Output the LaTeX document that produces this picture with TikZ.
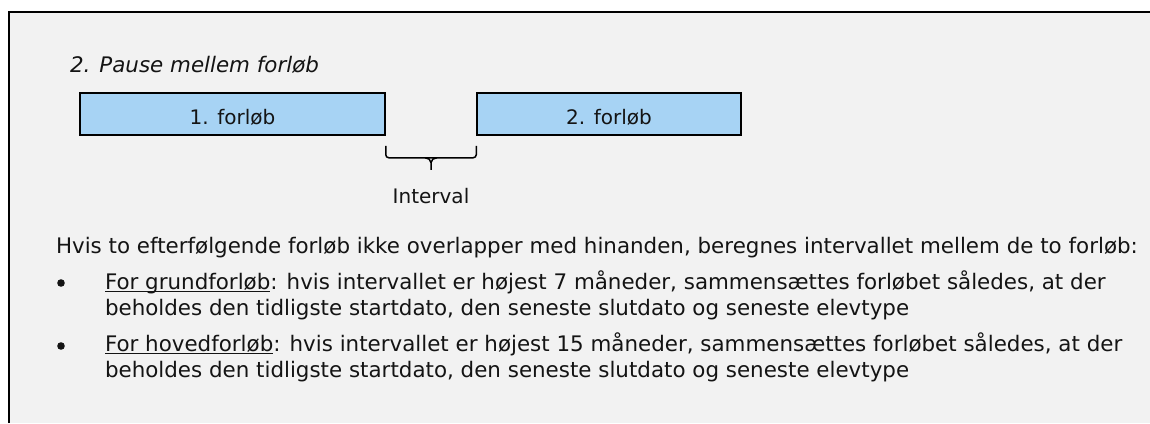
\documentclass[tikz,border=0pt]{standalone}
\usepackage{fontspec}
\setmainfont{DejaVu Sans}
\usetikzlibrary{calc}
\definecolor{panel}{HTML}{F2F2F2}
\definecolor{barblue}{HTML}{A7D3F4}
\definecolor{ink}{HTML}{141414}
\newcommand\ulx[1]{\setbox0\hbox{#1}\rlap{\rule[-3.4pt]{\wd0}{1.2pt}}#1}
\begin{document}
\begin{tikzpicture}[x=1pt,y=-1pt,
  txt/.style={anchor=base west,inner sep=0pt,outer sep=0pt,text=ink,font=\fontsize{21.4}{25}\selectfont},
  lbl/.style={inner sep=0pt,outer sep=0pt,text=ink,font=\fontsize{20}{24}\selectfont},
  bar/.style={draw=black,line width=1.5pt,fill=barblue,minimum height=42pt,inner sep=0pt,
    text=ink,font=\fontsize{20}{24}\selectfont,text height=20pt,text depth=0pt},
  dot/.style={circle,fill=ink,inner sep=0pt,minimum size=7.6pt},
  bracestyle/.style={draw=black,line width=1.5pt}]
\useasboundingbox (0,0) rectangle (1150,423);
\fill[panel] (9,12) rectangle (1150,423);
\draw[line width=2pt] (9,423) -- (9,12) -- (1150,12);

\node[txt,font=\fontsize{21.4}{25}\selectfont\itshape] (title) at (70,72) {2. Pause mellem forløb};

\node[bar,minimum width=305pt] (b1) at (232.5,114) {1. forløb};
\node[bar,minimum width=264pt] (b2) at (609,114) {2. forløb};

\coordinate (bl) at ($(b1.south east)+(0,10)$);
\coordinate (br) at ($(b2.south west)+(0,10)$);
\coordinate (bm) at ($(bl)!0.5!(br)+(0,12)$);
\draw[bracestyle,rounded corners=3pt] (bl) -- ($(bl)+(0,12)$) -- ($(br)+(0,12)$) -- (br);
\draw[bracestyle] ($(bm)+(-6,0)$) to[out=0,in=90] ($(bm)+(0,5)$) -- ($(bm)+(0,12)$);
\draw[bracestyle] ($(bm)+(6,0)$) to[out=180,in=90] ($(bm)+(0,5)$);

\node[lbl,anchor=base] (iv) at ($(bm)+(0,46)$) {Interval};

\node[txt] (p0) at (56,253) {Hvis to efterfølgende forløb ikke overlapper med hinanden, beregnes intervallet mellem de to forløb:};

\node[dot] (d1) at (61,283) {};
\node[txt] (p1a) at (105,289) {\ulx{For grundforløb}: hvis intervallet er højest 7 måneder, sammensættes forløbet således, at der};
\node[txt] (p1b) at (105,315) {beholdes den tidligste startdato, den seneste slutdato og seneste elevtype};

\node[dot] (d2) at (61,346) {};
\node[txt] (p2a) at (105,351) {\ulx{For hovedforløb}: hvis intervallet er højest 15 måneder, sammensættes forløbet således, at der};
\node[txt] (p2b) at (105,377) {beholdes den tidligste startdato, den seneste slutdato og seneste elevtype};
\end{tikzpicture}
\end{document}
